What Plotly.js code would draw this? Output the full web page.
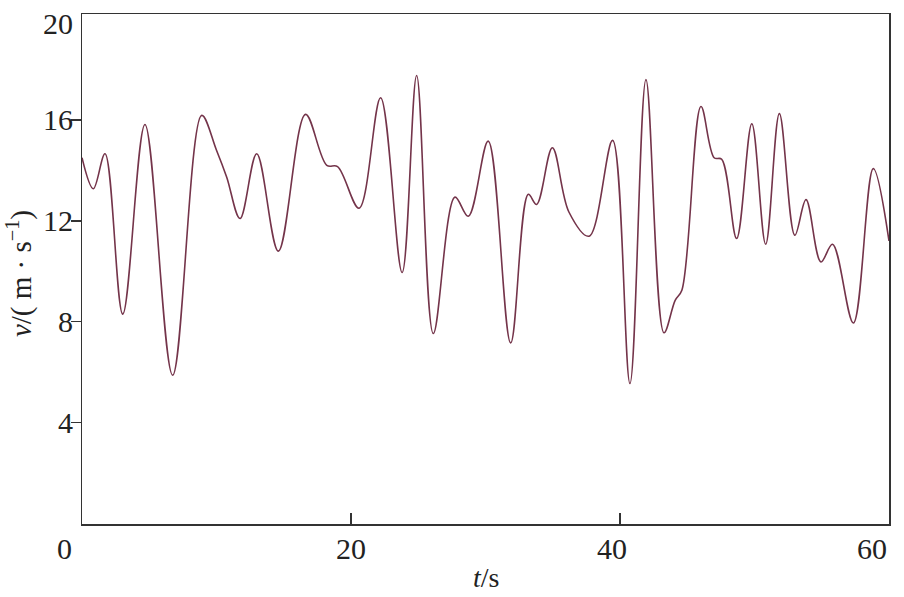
<!DOCTYPE html>
<html>
<head>
<meta charset="utf-8">
<script src="https://cdn.plot.ly/plotly-3.0.1.min.js"></script>
<style>html,body{margin:0;padding:0;background:#fff;}#chart{width:904px;height:597px;}</style>
</head>
<body>
<div id="chart"></div>
<script>
// time (s)
const timeS = [0.0, 0.84, 1.71, 3.03, 4.68, 6.74, 8.9, 10.0, 10.76, 11.75, 12.99, 14.6, 16.62, 18.2, 19.0, 20.6, 22.2, 23.8, 24.88, 26.12, 27.73, 28.72, 30.2, 31.87, 33.18, 33.8, 34.97, 36.2, 37.7, 39.45, 40.74, 41.93, 43.27, 44.1, 44.6, 46.02, 47.0, 47.56, 48.67, 49.8, 50.83, 51.85, 53.0, 53.83, 54.94, 55.8, 57.35, 58.83, 60.0];
// velocity (m/s)
const velocity = [14.5, 13.27, 14.66, 8.3, 15.82, 5.88, 16.18, 14.8, 13.73, 12.09, 14.66, 10.8, 16.22, 14.2, 14.15, 12.5, 16.88, 9.95, 17.76, 7.53, 12.94, 12.18, 15.16, 7.16, 13.05, 12.65, 14.9, 12.35, 11.39, 15.19, 5.55, 17.6, 7.56, 8.85, 9.25, 16.53, 14.5, 14.44, 11.3, 15.85, 11.07, 16.25, 11.43, 12.84, 10.37, 11.07, 7.95, 14.07, 11.2];

const xTickVals = [0, 20, 40, 60];
const xTickText = ['0', '20', '40', '60'];
const yTickVals = [4, 8, 12, 16, 20];
const yTickText = ['4', '8', '12', '16', '20'];

const tickFont = {family: 'Liberation Serif, Times New Roman, serif', size: 30, color: '#222'};
const xShift = [-8, 0, -8, 0];
const xAnchor = ['right', 'center', 'center', 'right'];

const annotations = [];
xTickVals.forEach((v, i) => {
  annotations.push({x: v, xref: 'x', y: 0, yref: 'paper', yanchor: 'top', yshift: -6,
    xanchor: xAnchor[i], xshift: xShift[i], text: xTickText[i], showarrow: false, font: tickFont});
});
yTickVals.forEach((v, i) => {
  annotations.push({x: 0, xref: 'paper', y: v, yref: 'y', xanchor: 'right', xshift: -7,
    yanchor: 'middle', yshift: (v === 20 ? -4 : 0), text: yTickText[i], showarrow: false, font: tickFont});
});
annotations.push({x: 0.5, xref: 'paper', y: 0, yref: 'paper', yanchor: 'top', yshift: -36,
  text: '<i>t</i>/s', showarrow: false, font: {family: tickFont.family, size: 28, color: '#222'}});
annotations.push({x: 0, xref: 'paper', y: 0.49, yref: 'paper', xanchor: 'center', xshift: -63,
  textangle: -90, text: '<i>v</i>/( m · s<sup>−1</sup>)', showarrow: false, font: {family: tickFont.family, size: 29, color: '#222'}});

const trace = {
  x: timeS, y: velocity, type: 'scatter', mode: 'lines',
  line: {color: '#74344a', width: 1.6, shape: 'spline', smoothing: 1},
  hoverinfo: 'skip'
};

const layout = {
  width: 904, height: 597,
  margin: {l: 82, r: 15, t: 14, b: 73},
  paper_bgcolor: '#fff', plot_bgcolor: '#fff',
  showlegend: false,
  xaxis: {range: [0, 60], showgrid: false, zeroline: false, showline: true, mirror: true,
    linecolor: '#333', linewidth: 1.5, tickvals: [20, 40], ticks: 'inside', ticklen: 11,
    tickcolor: '#333', tickwidth: 1.5, showticklabels: false},
  yaxis: {range: [-0.02, 20.2], showgrid: false, zeroline: false, showline: true, mirror: true,
    linecolor: '#333', linewidth: 1.5, tickvals: [4, 8, 12, 16], ticks: 'outside', ticklen: 10,
    tickcolor: '#333', tickwidth: 1.5, showticklabels: false},
  annotations: annotations
};

Plotly.newPlot('chart', [trace], layout, {displayModeBar: false, staticPlot: true});
</script>
</body>
</html>
